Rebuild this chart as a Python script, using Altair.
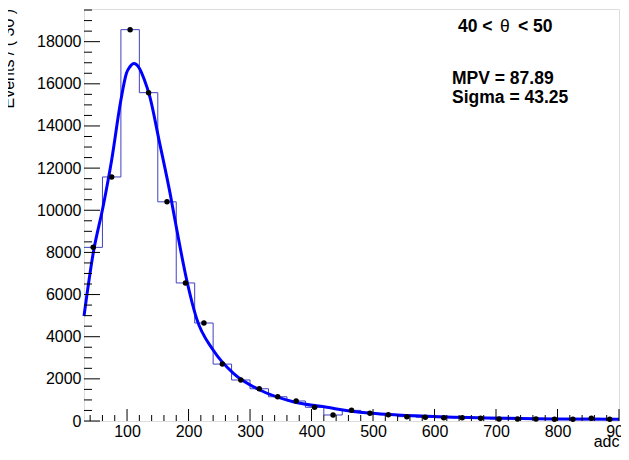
import altair as alt
import pandas as pd

# ---- data ----
bin_width = 30
bin_lo = [30, 60, 90, 120, 150, 180, 210, 240, 270, 300, 330, 360, 390, 420, 450,
          480, 510, 540, 570, 600, 630, 660, 690, 720, 750, 780, 810, 840, 870]
counts = [8240, 11580, 18570, 15580, 10400, 6550, 4650, 2700, 1946, 1530, 1150, 950,
          650, 285, 505, 365, 300, 205, 175, 157, 157, 128, 95, 95, 95, 80, 80, 128, 80]

fit_x = [30, 45, 61, 75, 90, 99, 105, 111, 120, 128, 137, 152, 170, 181, 197, 213,
         240, 273, 316, 370, 425, 479, 540, 609, 717, 800, 900]
fit_y = [4980, 7970, 10170, 12390, 15230, 16500, 16820, 16960, 16740, 16200, 15390,
         13330, 10800, 9060, 6690, 4870, 3370, 2260, 1470, 916, 650, 413, 290, 204,
         128, 100, 80]

x_major = [100, 200, 300, 400, 500, 600, 700, 800, 900]
x_minor = [v for v in range(40, 901, 20) if v % 100 != 0]
y_major = [0, 2000, 4000, 6000, 8000, 10000, 12000, 14000, 16000, 18000]
y_minor = [v for v in range(500, 19551, 500) if v % 2000 != 0]

x_domain = [30, 900]
y_domain = [0, 19550]

range_left = "40 <"
range_theta = "\u03b8"
range_right = "< 50"
mpv_text = "MPV = 87.89"
sigma_text = "Sigma = 43.25"

# ---- tables ----
hist = pd.DataFrame({"lo": bin_lo, "count": counts})
hist["center"] = hist["lo"] + bin_width / 2
step = pd.DataFrame({"edge": bin_lo + [bin_lo[-1] + bin_width],
                     "count": counts + [counts[-1]]})
fit = pd.DataFrame({"x": fit_x, "y": fit_y})

W, H = 535, 412
FONT = "Liberation Sans"

xs = alt.Scale(domain=x_domain, nice=False, zero=False)
ys = alt.Scale(domain=y_domain, nice=False, zero=False)

x_axis = alt.Axis(values=x_major, format="d", labelFontSize=16, labelFont=FONT,
                  labelColor="black", ticks=False, domain=False, grid=False,
                  labelPadding=2, labelFlush=False, labelOverlap=False, labelBound=False,
                  title="adc", titleFont=FONT, titleFontSize=16, titleFontWeight="normal",
                  titleColor="black", titleAnchor="end", titleAlign="right",
                  titleBaseline="alphabetic", titleX=W, titleY=25)
y_axis = alt.Axis(values=y_major, format="d", labelFontSize=16, labelFont=FONT,
                  labelColor="black", ticks=False, domain=False, grid=False,
                  labelPadding=3, labelOverlap=False, labelBound=False, labelFlush=False,
                  title="Events / ( 30 )", titleFont=FONT, titleFontSize=16,
                  titleFontWeight="normal", titleColor="black", titleAngle=270,
                  titleAlign="left", titleBaseline="alphabetic", titleX=-71, titleY=99)

steps = alt.Chart(step).mark_line(interpolate="step-after", color="#4040c0",
                                   strokeWidth=1).encode(
    x=alt.X("edge:Q", scale=xs, axis=x_axis),
    y=alt.Y("count:Q", scale=ys, axis=y_axis),
)

points = alt.Chart(hist).mark_circle(color="black", size=30, opacity=1).encode(
    x=alt.X("center:Q", scale=xs),
    y=alt.Y("count:Q", scale=ys),
)

curve = alt.Chart(fit).mark_line(color="#0000ff", strokeWidth=3,
                                  interpolate="monotone").encode(
    x=alt.X("x:Q", scale=xs),
    y=alt.Y("y:Q", scale=ys),
)

xmaj = alt.Chart(pd.DataFrame({"v": x_major})).mark_rule(color="black", strokeWidth=1).encode(
    x=alt.X("v:Q", scale=xs), y=alt.value(H), y2=alt.value(H - 12))
xmin = alt.Chart(pd.DataFrame({"v": x_minor})).mark_rule(color="black", strokeWidth=1).encode(
    x=alt.X("v:Q", scale=xs), y=alt.value(H), y2=alt.value(H - 6))
ymaj = alt.Chart(pd.DataFrame({"v": y_major})).mark_rule(color="black", strokeWidth=1).encode(
    y=alt.Y("v:Q", scale=ys), x=alt.value(0), x2=alt.value(16))
ymin = alt.Chart(pd.DataFrame({"v": y_minor})).mark_rule(color="black", strokeWidth=1).encode(
    y=alt.Y("v:Q", scale=ys), x=alt.value(0), x2=alt.value(8))


def label(txt, px, py, weight="bold"):
    return alt.Chart(pd.DataFrame({"t": [txt]})).mark_text(
        align="left", baseline="alphabetic", font=FONT, fontSize=17.5,
        fontWeight=weight, color="black").encode(
        text="t:N", x=alt.value(px), y=alt.value(py))


chart = alt.layer(
    steps, curve, points, xmaj, xmin, ymaj, ymin,
    label(range_left, 374, 23),
    label(range_theta, 416, 23, weight="normal"),
    label(range_right, 434, 23),
    label(mpv_text, 368, 75),
    label(sigma_text, 368, 94),
).properties(
    width=W, height=H,
    autosize=alt.AutoSizeParams(type="none"),
    padding={"left": 76, "right": 2, "top": 1, "bottom": 27},
).configure_view(stroke="black", strokeWidth=1).configure(background="white")

chart.save("out.html", embed_options={"renderer": "svg", "actions": False})
